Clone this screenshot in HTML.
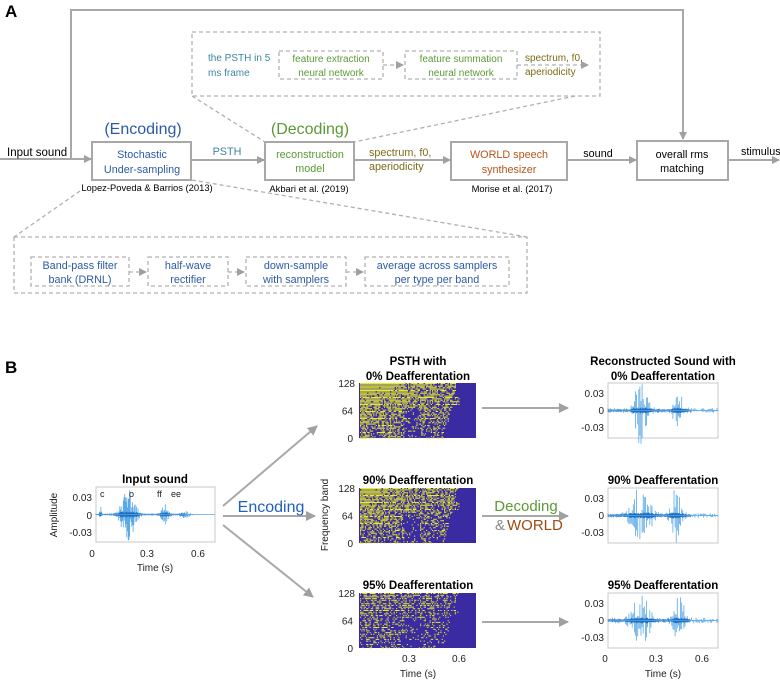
<!DOCTYPE html>
<html><head><meta charset="utf-8"><style>
html,body{margin:0;padding:0;background:#fff;}
svg text{font-family:"Liberation Sans",sans-serif;}
.t{font-size:10.8px;}
.h{font-family:"Liberation Sans",sans-serif;font-weight:bold;font-size:11.5px;}
.ax{font-family:"Liberation Sans",sans-serif;font-size:10px;fill:#222;}
</style></head><body>
<svg id="s" width="780" height="681" viewBox="0 0 780 681" xmlns="http://www.w3.org/2000/svg">
<defs>
<marker id="ar" markerWidth="8" markerHeight="8" refX="7" refY="4" orient="auto" markerUnits="userSpaceOnUse"><path d="M0,0 L8,4 L0,8 Z" fill="#a0a0a0"/></marker>
<marker id="ar2" markerWidth="10" markerHeight="10" refX="9" refY="5" orient="auto" markerUnits="userSpaceOnUse"><path d="M0,0 L10,5 L0,10 Z" fill="#a0a0a0"/></marker>
</defs>
<text x="5" y="17" font-weight="bold" font-size="17">A</text>
<g stroke="#a8a8a8" stroke-width="2" fill="none">
<polyline points="71,159 71,10 683,10 683,139" marker-end="url(#ar)"/>
<line x1="0" y1="159" x2="91" y2="159" marker-end="url(#ar)"/>
<line x1="192" y1="160" x2="264" y2="160" marker-end="url(#ar)"/>
<line x1="354" y1="160" x2="450" y2="160" marker-end="url(#ar)"/>
<line x1="567" y1="160" x2="636" y2="160" marker-end="url(#ar)"/>
<line x1="728" y1="160" x2="779" y2="160" marker-end="url(#ar)"/>
<rect x="92" y="142" width="99" height="38"/>
<rect x="265" y="142" width="89" height="38"/>
<rect x="451" y="142" width="116" height="38"/>
<rect x="637" y="141" width="91" height="39"/>
</g>
<g stroke="#b0b0b0" stroke-width="1.3" fill="none" stroke-dasharray="4,3">
<rect x="192" y="32" width="408" height="64"/>
<rect x="279" y="51" width="104" height="28"/>
<rect x="405" y="51" width="112" height="28"/>
<line x1="383" y1="65" x2="403" y2="65" marker-end="url(#ar)"/>
<line x1="517" y1="65" x2="588" y2="65" marker-end="url(#ar)"/>
<line x1="192" y1="96" x2="265" y2="142"/>
<line x1="575" y1="96" x2="354" y2="142"/>
<rect x="14" y="237" width="513" height="56"/>
<line x1="192" y1="180" x2="527" y2="237"/>
<line x1="80" y1="191" x2="14" y2="237"/>
<rect x="31" y="257" width="98" height="29"/>
<rect x="148" y="257" width="80" height="29"/>
<rect x="246" y="257" width="100" height="29"/>
<rect x="365" y="257" width="144" height="29"/>
<line x1="129" y1="272" x2="146" y2="272" marker-end="url(#ar)"/>
<line x1="228" y1="272" x2="244" y2="272" marker-end="url(#ar)"/>
<line x1="346" y1="272" x2="363" y2="272" marker-end="url(#ar)"/>
</g>
<g class="t">
<text x="7" y="156" font-size="11.5">Input sound</text>
<text x="143" y="134" font-size="16" fill="#2d5aa6" text-anchor="middle">(Encoding)</text>
<text x="142" y="158" fill="#2d5aa6" text-anchor="middle">Stochastic</text>
<text x="142" y="173" fill="#2d5aa6" text-anchor="middle">Under-sampling</text>
<text x="227" y="155" fill="#3d84a0" text-anchor="middle">PSTH</text>
<text x="310" y="134" font-size="16" fill="#5a9a35" text-anchor="middle">(Decoding)</text>
<text x="310" y="158" fill="#5a9a35" text-anchor="middle">reconstruction</text>
<text x="310" y="172" fill="#5a9a35" text-anchor="middle">model</text>
<text x="369" y="156" fill="#7b6b17">spectrum, f0,</text>
<text x="369" y="170" fill="#7b6b17">aperiodicity</text>
<text x="509" y="158" fill="#b3561b" text-anchor="middle">WORLD speech</text>
<text x="509" y="173" fill="#b3561b" text-anchor="middle">synthesizer</text>
<text x="598" y="157" text-anchor="middle">sound</text>
<text x="682" y="158" text-anchor="middle">overall rms</text>
<text x="682" y="172" text-anchor="middle">matching</text>
<text x="741" y="155">stimulus</text>
<text x="147" y="191" font-size="9.4" text-anchor="middle">Lopez-Poveda &amp; Barrios (2013)</text>
<text x="309" y="192" font-size="9.4" text-anchor="middle">Akbari et al. (2019)</text>
<text x="512" y="192" font-size="9.4" text-anchor="middle">Morise et al. (2017)</text>
<text x="208" y="61" fill="#3d84a0" font-size="10">the PSTH in 5</text>
<text x="208" y="76" fill="#3d84a0" font-size="10">ms frame</text>
<text x="331" y="62" fill="#5a9a35" text-anchor="middle" font-size="10">feature extraction</text>
<text x="331" y="76" fill="#5a9a35" text-anchor="middle" font-size="10">neural network</text>
<text x="461" y="62" fill="#5a9a35" text-anchor="middle" font-size="10">feature summation</text>
<text x="461" y="76" fill="#5a9a35" text-anchor="middle" font-size="10">neural network</text>
<text x="525" y="61" fill="#7b6b17" font-size="10">spectrum, f0,</text>
<text x="525" y="75" fill="#7b6b17" font-size="10">aperiodicity</text>
<text x="80" y="269" fill="#2d5aa6" text-anchor="middle">Band-pass filter</text>
<text x="80" y="283" fill="#2d5aa6" text-anchor="middle">bank (DRNL)</text>
<text x="188" y="269" fill="#2d5aa6" text-anchor="middle">half-wave</text>
<text x="188" y="283" fill="#2d5aa6" text-anchor="middle">rectifier</text>
<text x="296" y="269" fill="#2d5aa6" text-anchor="middle">down-sample</text>
<text x="296" y="283" fill="#2d5aa6" text-anchor="middle">with samplers</text>
<text x="437" y="269" fill="#2d5aa6" text-anchor="middle">average across samplers</text>
<text x="437" y="283" fill="#2d5aa6" text-anchor="middle">per type per band</text>
</g>
<text x="5" y="373" font-size="17" font-weight="bold">B</text>
<g stroke="#a8a8a8" stroke-width="2" fill="none">
<line x1="223" y1="506" x2="317" y2="426" marker-end="url(#ar2)"/>
<line x1="223" y1="516" x2="315" y2="516" marker-end="url(#ar2)"/>
<line x1="223" y1="525" x2="313" y2="597" marker-end="url(#ar2)"/>
<line x1="482" y1="408" x2="568" y2="408" marker-end="url(#ar2)"/>
<line x1="482" y1="516" x2="568" y2="516" marker-end="url(#ar2)"/>
<line x1="482" y1="622" x2="568" y2="622" marker-end="url(#ar2)"/>
</g>
<text x="271" y="512" font-size="16" fill="#1f5fbf" text-anchor="middle">Encoding</text>
<text x="526" y="511" font-size="15" fill="#5a9a35" text-anchor="middle">Decoding</text>
<text x="495" y="530" font-size="15" fill="#888">&amp;</text>
<text x="507" y="530" font-size="15" fill="#9c4a12">WORLD</text>
<g class="h" text-anchor="middle">
<text x="418" y="365">PSTH with</text>
<text x="418" y="380">0% Deafferentation</text>
<text x="418" y="484">90% Deafferentation</text>
<text x="418" y="589">95% Deafferentation</text>
<text x="663" y="365">Reconstructed Sound with</text>
<text x="663" y="380">0% Deafferentation</text>
<text x="663" y="484">90% Deafferentation</text>
<text x="663" y="589">95% Deafferentation</text>
<text x="155" y="483">Input sound</text>
</g>
<g id="plots"></g>
<g class="ax">
<text x="57" y="515" text-anchor="middle" transform="rotate(-90 57 515)">Amplitude</text>
<text x="328" y="515" text-anchor="middle" transform="rotate(-90 328 515)">Frequency band</text>
<text x="155" y="571" text-anchor="middle">Time (s)</text>
<text x="418" y="677" text-anchor="middle">Time (s)</text>
<text x="663" y="677" text-anchor="middle">Time (s)</text>
<text x="92" y="557" text-anchor="middle">0</text>
<text x="147" y="557" text-anchor="middle">0.3</text>
<text x="198" y="557" text-anchor="middle">0.6</text>
<text x="409" y="662" text-anchor="middle">0.3</text>
<text x="459" y="662" text-anchor="middle">0.6</text>
<text x="605" y="662" text-anchor="middle">0</text>
<text x="656" y="662" text-anchor="middle">0.3</text>
<text x="702" y="662" text-anchor="middle">0.6</text>
<text x="92" y="501" text-anchor="end">0.03</text>
<text x="92" y="519" text-anchor="end">0</text>
<text x="92" y="536" text-anchor="end">-0.03</text>
<text x="100" y="497" font-size="9">c</text>
<text x="129" y="497" font-size="9">o</text>
<text x="157" y="497" font-size="9">ff</text>
<text x="171" y="497" font-size="9">ee</text>
</g>
<g id="ticks" class="ax"></g>
</svg>
<script>
var NS="http://www.w3.org/2000/svg",P=document.getElementById("plots"),T=document.getElementById("ticks");
var seed=7;function r(){seed=(seed*16807)%2147483647;return seed/2147483647;}
function el(t,a,p){var e=document.createElementNS(NS,t);for(var k in a)e.setAttribute(k,a[k]);(p||P).appendChild(e);return e;}
function txt(x,y,s,anc){var e=el("text",{x:x,y:y,"text-anchor":anc},T);e.textContent=s;}
[[383,0],[488,1],[593,2]].forEach(function(o){
 var x0=359,y0=o[0],w=117,h=55,lvl=o[1];
 el("rect",{x:x0,y:y0,width:w,height:h,fill:"#3a2ba3"});
 var d="";
 var rs=(lvl==2?1.7:1.4);
 for(var row=0;row<h;row+=rs){
  var fr=1-row/h;
  var endx=w*(0.72+0.12*fr);
  if(fr>0.6&&fr<0.75)endx=w*0.85;
  for(var c=1;c<endx;c+=1.2){
   var base=(lvl==0?1.0:lvl==1?0.85:0.6);
   var p=base*(0.5+0.6*fr)*(1-0.45*c/endx);
   if(c>w*0.38&&c<w*0.52&&row>h*0.45)p*=0.35;
   if(r()<p)d+="M"+(x0+c).toFixed(1)+","+(y0+row).toFixed(1)+"h1.2v1h-1.2z";
  }
 }
 el("path",{d:d,fill:"#e8ec2a"});
 txt(355,y0+4,"128","end");txt(353,y0+h/2+4,"64","end");txt(353,y0+h+4,"0","end");
});
function wave(x0,y0,w,h,env,amp,step,pw){
 el("rect",{x:x0,y:y0,width:w,height:h,fill:"#fff",stroke:"#c8c8c8","stroke-width":1});
 var mid=y0+h/2,d="";
 for(var i=0;i<w;i+=step){
  var t=i/w,a=env(t)*amp*Math.pow(r(),pw);
  var a2=env(t)*amp*Math.pow(r(),pw);
  d+="M"+(x0+i).toFixed(1)+","+(mid-a).toFixed(1)+"V"+(mid+a2).toFixed(1);
 }
 el("path",{d:d,stroke:"#5aa8e8","stroke-width":0.8,fill:"none"});
 var d2="";for(var i=0;i<w*0.75;i+=0.6){var a=Math.min(3,env(i/w)*amp*0.15+0.9)*(0.5+0.5*r());d2+="M"+(x0+i).toFixed(1)+","+(mid-a).toFixed(1)+"V"+(mid+a).toFixed(1);}
 el("path",{d:d2,stroke:"#1f6fc0","stroke-width":0.6,fill:"none"});
 el("line",{x1:x0,y1:mid,x2:x0+w,y2:mid,stroke:"#5aa8e8","stroke-width":0.8});
}
function g(t,c,s){return Math.exp(-Math.pow((t-c)/s,2));}
wave(96,487,119,55,function(t){return 0.35*g(t,0.04,0.01)+g(t,0.27,0.07)+0.4*g(t,0.58,0.04)+0.15*g(t,0.75,0.05);},26,0.7,1);
function rt(y0){txt(604,y0+14,"0.03","end");txt(604,y0+31,"0","end");txt(604,y0+48,"-0.03","end");}
wave(608,383,110,55,function(t){return 0.08+1.2*g(t,0.3,0.06)+0.55*g(t,0.64,0.05);},30,1.1,1.3);rt(383);
wave(608,488,110,55,function(t){return 0.08+1.0*g(t,0.3,0.09)+0.9*g(t,0.62,0.05);},30,1.1,1.3);rt(488);
wave(608,593,110,55,function(t){return 0.1+0.95*g(t,0.3,0.08)+0.85*g(t,0.65,0.05);},30,1.1,1.3);rt(593);
</script>
</body></html>
